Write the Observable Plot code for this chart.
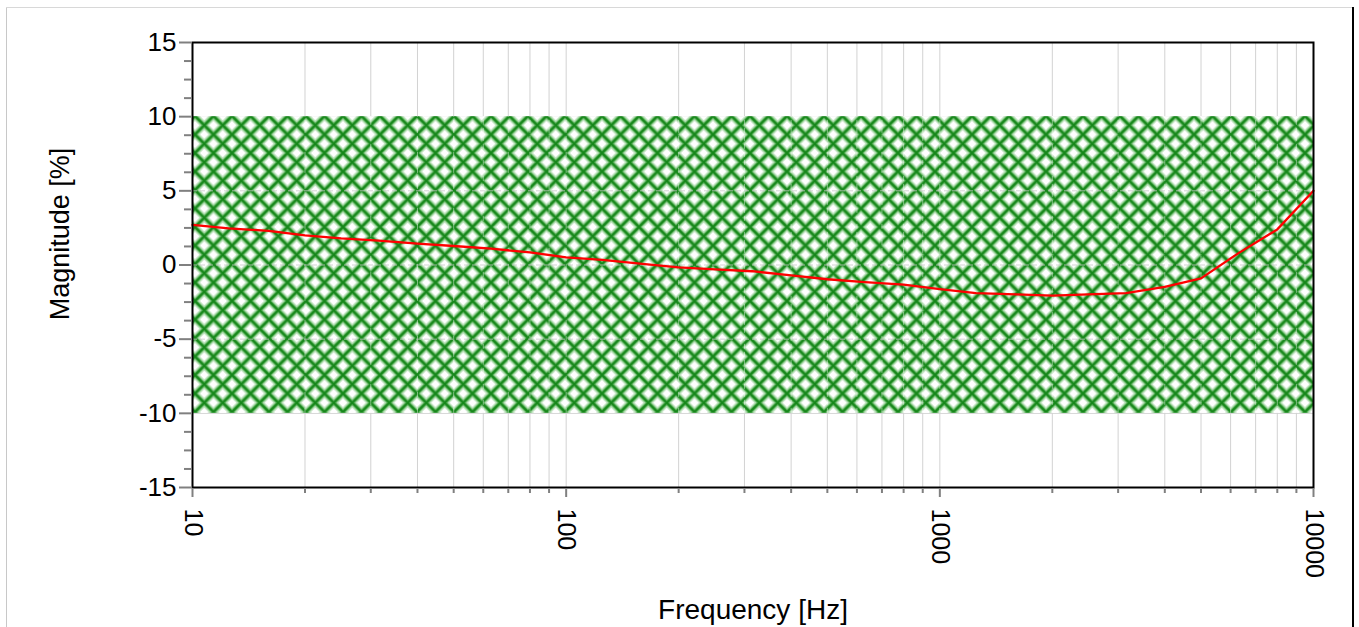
<!DOCTYPE html>
<html>
<head>
<meta charset="utf-8">
<script src="https://cdn.jsdelivr.net/npm/d3@7"></script>
<script src="https://cdn.jsdelivr.net/npm/@observablehq/plot@0.6"></script>
<style>
  html, body { margin: 0; padding: 0; background: #fff; }
  #wrap { position: relative; width: 1359px; height: 627px; overflow: hidden; }
  .edge { position: absolute; }
</style>
</head>
<body>
<div id="wrap">
  <div id="chart"></div>
  <div class="edge" style="left:6px; top:7px; width:1px; height:620px; background:#c8c8c8;"></div>
  <div class="edge" style="left:6px; top:7px; width:1347px; height:1px; background:#d8d8d8;"></div>
  <div class="edge" style="left:1352px; top:7px; width:2px; height:620px; background:#000;"></div>
</div>
<script>
// ---- data ----
const freqs = [10, 12.5, 16, 20, 25, 31.5, 40, 50, 63, 80, 100, 125, 160, 200, 250, 315, 400, 500, 630, 800,
               1000, 1250, 1600, 2000, 2500, 3150, 4000, 5000, 6300, 8000, 10000];
const magnitude = [2.7, 2.47, 2.3, 2.0, 1.8, 1.65, 1.44, 1.28, 1.1, 0.85, 0.52, 0.34, 0.08, -0.16, -0.29, -0.42, -0.7, -0.96, -1.15, -1.32,
                   -1.62, -1.9, -1.98, -2.07, -1.98, -1.9, -1.48, -0.9, 0.8, 2.4, 5.0];
const bandLow = -10;
const bandHigh = 10;
const xMajorTicks = [10, 100, 1000, 10000];
const xTickLabels = ["10", "100", "1000", "10000"];
const yMajorTicks = [-15, -10, -5, 0, 5, 10, 15];
const yTickLabels = ["-15", "-10", "-5", "0", "5", "10", "15"];
const xTitle = "Frequency [Hz]";
const yTitle = "Magnitude [%]";

// derived tick sets
const xMinorTicks = [];
for (const d of [10, 100, 1000]) for (let k = 2; k <= 9; k++) xMinorTicks.push(d * k);
const xGrid = xMajorTicks.concat(xMinorTicks);
const yMinorTicks = d3.range(-15, 15.001, 1.25).filter(v => !yMajorTicks.includes(v));

const data = freqs.map((f, i) => ({f, m: magnitude[i]}));
const band = [{x1: freqs[0], x2: freqs[freqs.length - 1], y1: bandLow, y2: bandHigh}];

const font = "'Liberation Sans', Arial, Helvetica, sans-serif";

const svg = Plot.plot({
  width: 1359,
  height: 627,
  marginLeft: 192,
  marginRight: 46,
  marginTop: 42,
  marginBottom: 140,
  x: {type: "log", domain: [10, 10000], axis: null},
  y: {domain: [-15, 15], axis: null},
  style: {fontFamily: font, background: "transparent", color: "#000", overflow: "visible"},
  marks: [
    // grid
    Plot.ruleX(xGrid, {x: d => d, stroke: "#d2d2d2", strokeWidth: 1}),
    Plot.ruleY(yMajorTicks, {y: d => d, stroke: "#d2d2d2", strokeWidth: 1}),
    // hatched tolerance band
    Plot.rect(band, {x1: "x1", x2: "x2", y1: "y1", y2: "y2", fill: "green"}),
    // grid showing through the band
    Plot.ruleX(xGrid.filter(v => v > 10 && v < 10000), {x: d => d, y1: bandLow, y2: bandHigh, stroke: "#ffffff", strokeOpacity: 0.45, strokeDasharray: "5,3"}),
    Plot.ruleY([-5, 0, 5], {y: d => d, stroke: "#c8c8c8", strokeOpacity: 0.8, strokeDasharray: "5,3"}),
    // data line
    Plot.line(data, {x: "f", y: "m", stroke: "#ff0000", strokeWidth: 2.3}),
    // frame
    Plot.frame({stroke: "#000", strokeWidth: 2}),
    // y ticks
    Plot.ruleY(yMajorTicks, {y: d => d, x1: 10, x2: 10, insetLeft: -13, insetRight: 1, stroke: "#808080", strokeWidth: 2}),
    Plot.ruleY(yMinorTicks, {y: d => d, x1: 10, x2: 10, insetLeft: -8, insetRight: 1, stroke: "#808080", strokeWidth: 2}),
    // x ticks
    Plot.ruleX(xMajorTicks, {x: d => d, y1: -15, y2: -15, insetTop: 1, insetBottom: -10, stroke: "#808080", strokeWidth: 2}),
    Plot.ruleX(xMinorTicks, {x: d => d, y1: -15, y2: -15, insetTop: 1, insetBottom: -6, stroke: "#808080", strokeWidth: 2}),
    // tick labels
    Plot.text(yMajorTicks, {x: 10, y: d => d, text: (d, i) => yTickLabels[i], textAnchor: "end", dx: -16, fontSize: 26, fill: "#000"}),
    Plot.text(xMajorTicks, {x: d => d, y: -15, text: (d, i) => xTickLabels[i], textAnchor: "start", lineAnchor: "middle", rotate: 90, dy: 21, fontSize: 25, fill: "#000"}),
    // axis titles
    Plot.text([yTitle], {frameAnchor: "left", text: d => d, rotate: -90, textAnchor: "middle", dx: -132, dy: -31, fontSize: 27, fill: "#000", lineAnchor: "middle"}),
    Plot.text([xTitle], {frameAnchor: "bottom", text: d => d, textAnchor: "middle", dy: 123, fontSize: 28, fill: "#000", lineAnchor: "middle"})
  ]
});

// hatch pattern definition
const a = 18.5;
const defs = d3.select(svg).insert("defs", ":first-child");
const pat = defs.append("pattern")
  .attr("id", "hatch")
  .attr("patternUnits", "userSpaceOnUse")
  .attr("width", a).attr("height", a)
  .attr("x", 195).attr("y", 116);
pat.append("rect").attr("width", a).attr("height", a).attr("fill", "#fff");
const diag = `M${-a},0 L0,${a} M0,0 L${a},${a} M${a},0 L${2*a},${a} M${-a},${a} L0,0 M0,${a} L${a},0 M${a},${a} L${2*a},0`;
pat.append("path").attr("d", diag).attr("stroke", "#8fcf8f").attr("stroke-width", 7).attr("stroke-opacity", 0.6).attr("fill", "none");
pat.append("path").attr("d", diag).attr("stroke", "#45a845").attr("stroke-width", 4).attr("stroke-opacity", 0.8).attr("fill", "none");
pat.append("path").attr("d", diag).attr("stroke", "#16871a").attr("stroke-width", 2).attr("fill", "none");
d3.select(svg).selectAll('g[aria-label="rect"] rect').attr("fill", "url(#hatch)");

document.getElementById("chart").appendChild(svg);
</script>
</body>
</html>
